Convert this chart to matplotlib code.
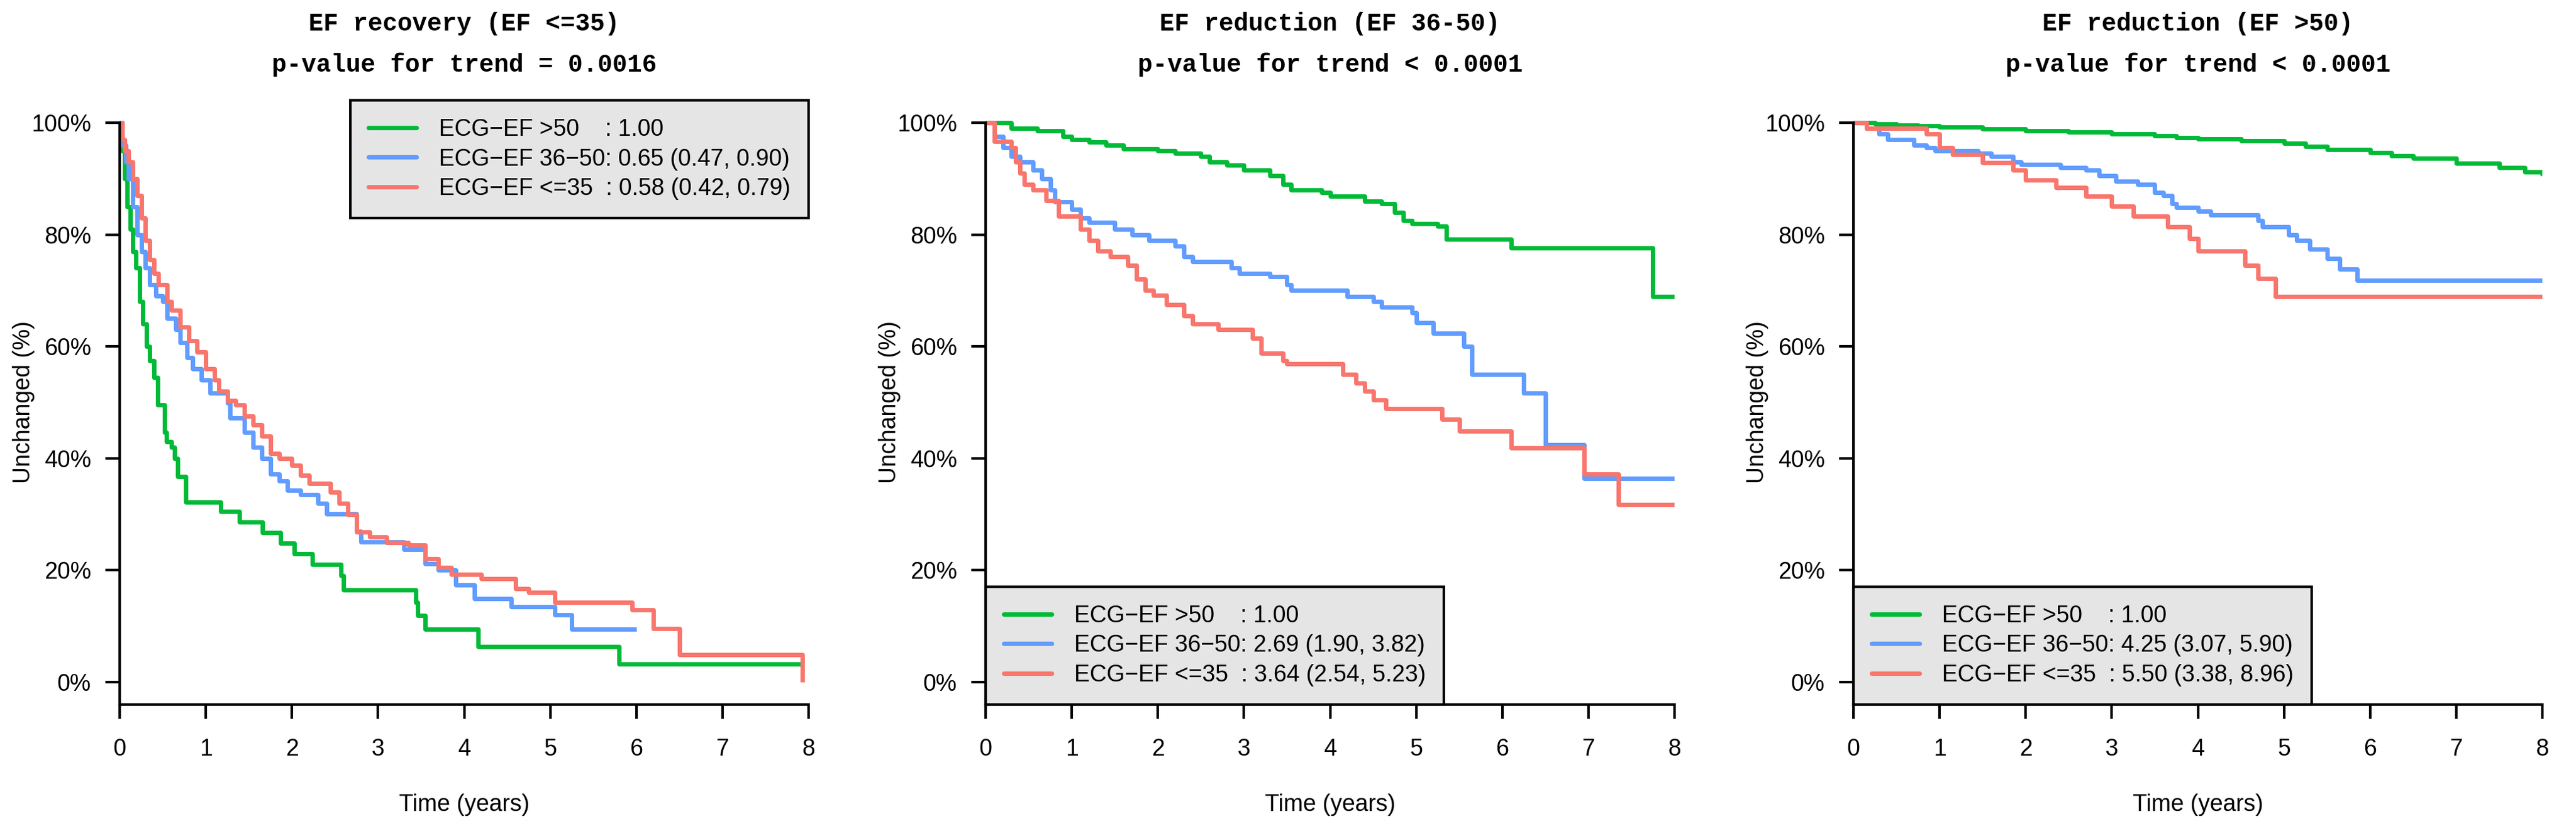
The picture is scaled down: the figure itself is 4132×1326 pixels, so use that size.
import matplotlib
matplotlib.use("Agg")
import matplotlib.pyplot as plt
from matplotlib.lines import Line2D
from matplotlib.ticker import FuncFormatter

# ---- data (time in years, proportion unchanged) ----
titles = ["EF recovery (EF <=35)\np-value for trend = 0.0016",
          "EF reduction (EF 36-50)\np-value for trend < 0.0001",
          "EF reduction (EF >50)\np-value for trend < 0.0001"]

groups = ["ECG\u2212EF >50    ", "ECG\u2212EF 36\u221250", "ECG\u2212EF <=35  "]
colors = ["#00BA38", "#619CFF", "#F8766D"]

hr_recovery = ["1.00", "0.65 (0.47, 0.90)", "0.58 (0.42, 0.79)"]
hr_red_mid = ["1.00", "2.69 (1.90, 3.82)", "3.64 (2.54, 5.23)"]
hr_red_high = ["1.00", "4.25 (3.07, 5.90)", "5.50 (3.38, 8.96)"]

# panel 1: EF recovery
rec_gt50_t = [0, 0.03, 0.06, 0.09, 0.12, 0.15, 0.19, 0.23, 0.27, 0.31, 0.35, 0.4, 0.44, 0.52, 0.54,
              0.6, 0.64, 0.67, 0.77, 1.17, 1.39, 1.66, 1.87, 2.03, 2.24, 2.57, 2.6, 3.44, 3.46, 3.55,
              4.16, 5.8, 7.95]
rec_gt50_s = [1.0, 0.95, 0.9, 0.85, 0.81, 0.77, 0.74, 0.68, 0.64, 0.6, 0.575, 0.545, 0.496, 0.447, 0.43,
              0.42, 0.40, 0.367, 0.322, 0.305, 0.286, 0.267, 0.248, 0.229, 0.21, 0.19, 0.165, 0.143, 0.119,
              0.095, 0.064, 0.032, 0.032]
rec_mid_t = [0, 0.03, 0.07, 0.1, 0.15, 0.2, 0.25, 0.3, 0.35, 0.42, 0.5, 0.55, 0.65, 0.7, 0.78, 0.85, 0.95,
             1.05, 1.25, 1.28, 1.45, 1.55, 1.65, 1.75, 1.85, 1.95, 2.1, 2.3, 2.4, 2.75, 2.8, 3.3, 3.55,
             3.7, 3.9, 4.12, 4.55, 5.05, 5.25, 6.0]
rec_mid_s = [1.0, 0.96, 0.93, 0.9, 0.85, 0.8, 0.77, 0.74, 0.71, 0.69, 0.68, 0.65, 0.63, 0.607, 0.58, 0.56,
             0.54, 0.517, 0.499, 0.472, 0.447, 0.42, 0.40, 0.372, 0.36, 0.343, 0.335, 0.32, 0.301, 0.27,
             0.251, 0.237, 0.212, 0.2, 0.174, 0.149, 0.135, 0.12, 0.095, 0.095]
rec_le35_t = [0, 0.03, 0.06, 0.1, 0.15, 0.2, 0.25, 0.3, 0.35, 0.4, 0.45, 0.55, 0.6, 0.7, 0.8, 0.9, 1.0,
              1.1, 1.15, 1.25, 1.35, 1.45, 1.55, 1.65, 1.75, 1.85, 2.0, 2.1, 2.2, 2.45, 2.55, 2.65, 2.75,
              2.9, 3.1, 3.35, 3.55, 3.7, 3.85, 4.2, 4.6, 4.75, 5.05, 5.95, 6.2, 6.5, 7.93]
rec_le35_s = [1.0, 0.97, 0.95, 0.93, 0.9, 0.87, 0.83, 0.79, 0.755, 0.73, 0.71, 0.68, 0.665, 0.635, 0.61,
              0.59, 0.56, 0.54, 0.52, 0.503, 0.495, 0.475, 0.46, 0.44, 0.409, 0.40, 0.388, 0.37, 0.355,
              0.34, 0.32, 0.30, 0.268, 0.26, 0.25, 0.245, 0.22, 0.205, 0.193, 0.185, 0.167, 0.16, 0.143,
              0.129, 0.096, 0.049, 0.0]

# panel 2: EF reduction, EF 36-50
mid_gt50_t = [0, 0.3, 0.6, 0.9, 1.0, 1.2, 1.4, 1.6, 2.0, 2.2, 2.5, 2.6, 2.8, 3.0, 3.3, 3.45, 3.55, 3.9,
              4.0, 4.4, 4.6, 4.75, 4.85, 4.95, 5.25, 5.35, 6.1, 7.75, 8.0]
mid_gt50_s = [1.0, 0.99, 0.985, 0.975, 0.97, 0.965, 0.96, 0.953, 0.95, 0.945, 0.94, 0.93, 0.924, 0.915,
              0.905, 0.89, 0.88, 0.875, 0.868, 0.86, 0.855, 0.84, 0.825, 0.82, 0.815, 0.792, 0.776, 0.689,
              0.689]
mid_mid_t = [0, 0.1, 0.2, 0.3, 0.4, 0.55, 0.65, 0.75, 0.8, 1.0, 1.1, 1.2, 1.5, 1.7, 1.9, 2.2, 2.3, 2.4,
             2.85, 2.95, 3.3, 3.5, 3.55, 4.2, 4.5, 4.6, 4.95, 5.0, 5.2, 5.55, 5.65, 6.25, 6.5, 6.95, 8.0]
mid_mid_s = [1.0, 0.975, 0.955, 0.94, 0.93, 0.915, 0.9, 0.88, 0.859, 0.845, 0.83, 0.822, 0.81, 0.80,
             0.79, 0.78, 0.76, 0.752, 0.74, 0.731, 0.725, 0.71, 0.70, 0.689, 0.68, 0.67, 0.66, 0.642,
             0.624, 0.6, 0.55, 0.517, 0.424, 0.364, 0.364]
mid_le35_t = [0, 0.1, 0.3, 0.35, 0.4, 0.45, 0.55, 0.7, 0.85, 1.1, 1.2, 1.3, 1.45, 1.65, 1.75, 1.85, 1.95,
              2.1, 2.3, 2.4, 2.7, 3.1, 3.2, 3.45, 3.5, 4.15, 4.3, 4.4, 4.5, 4.65, 5.3, 5.5, 6.1, 6.95,
              7.35, 8.0]
mid_le35_s = [1.0, 0.966, 0.955, 0.93, 0.91, 0.89, 0.88, 0.861, 0.833, 0.81, 0.79, 0.771, 0.76, 0.745,
              0.72, 0.70, 0.691, 0.675, 0.655, 0.64, 0.63, 0.615, 0.588, 0.575, 0.569, 0.55, 0.535, 0.52,
              0.505, 0.489, 0.47, 0.449, 0.419, 0.372, 0.317, 0.317]

# panel 3: EF reduction, EF >50
high_gt50_t = [0, 0.25, 0.5, 0.75, 1.0, 1.5, 2.0, 2.5, 3.0, 3.5, 3.75, 4.0, 4.5, 5.0, 5.25, 5.5, 6.0,
               6.25, 6.5, 7.0, 7.5, 7.8, 8.0]
high_gt50_s = [1.0, 0.998, 0.996, 0.994, 0.992, 0.989, 0.986, 0.983, 0.980, 0.977, 0.973, 0.971, 0.968,
               0.963, 0.958, 0.952, 0.947, 0.941, 0.936, 0.928, 0.92, 0.912, 0.905]
high_mid_t = [0, 0.15, 0.3, 0.4, 0.7, 0.85, 0.95, 1.45, 1.6, 1.85, 1.95, 2.4, 2.7, 2.85, 3.05, 3.3, 3.5,
              3.6, 3.7, 3.75, 4.0, 4.15, 4.7, 4.75, 5.05, 5.15, 5.3, 5.5, 5.65, 5.85, 8.0]
high_mid_s = [1.0, 0.99, 0.98, 0.97, 0.96, 0.955, 0.95, 0.945, 0.94, 0.93, 0.925, 0.92, 0.915, 0.905,
              0.895, 0.89, 0.875, 0.87, 0.855, 0.849, 0.842, 0.835, 0.825, 0.814, 0.80, 0.79, 0.774,
              0.757, 0.738, 0.718, 0.718]
high_le35_t = [0, 0.15, 0.85, 1.0, 1.15, 1.5, 1.85, 2.0, 2.35, 2.7, 3.0, 3.25, 3.65, 3.9, 4.0, 4.55,
               4.7, 4.9, 8.0]
high_le35_s = [1.0, 0.99, 0.98, 0.955, 0.943, 0.929, 0.915, 0.898, 0.884, 0.868, 0.851, 0.833, 0.814,
               0.793, 0.771, 0.745, 0.722, 0.689, 0.689]

panels = [
    ([(rec_gt50_t, rec_gt50_s), (rec_mid_t, rec_mid_s), (rec_le35_t, rec_le35_s)], hr_recovery, "upper right"),
    ([(mid_gt50_t, mid_gt50_s), (mid_mid_t, mid_mid_s), (mid_le35_t, mid_le35_s)], hr_red_mid, "lower left"),
    ([(high_gt50_t, high_gt50_s), (high_mid_t, high_mid_s), (high_le35_t, high_le35_s)], hr_red_high, "lower left"),
]

plt.rcParams["font.family"] = ["Liberation Sans", "DejaVu Sans"]
FS = 9

fig = plt.figure(figsize=(4132 / 300, 1326 / 300), dpi=300)
lefts = [192 / 4132, 1581 / 4132, 2973 / 4132]

for i, (curves, hrs, loc) in enumerate(panels):
    ax = fig.add_axes([lefts[i], 195 / 1326, 1105 / 4132, 970 / 1326])
    for (t, s), c in zip(curves, colors):
        ax.step(t, s, where="post", color=c, lw=1.7, solid_capstyle="butt")

    ax.set_xlim(0, 8)
    ax.set_ylim(-0.04, 1.04)
    ax.set_xticks(range(9))
    ax.set_yticks([0, 0.2, 0.4, 0.6, 0.8, 1.0])
    ax.yaxis.set_major_formatter(FuncFormatter(lambda v, p: f"{v * 100:.0f}%"))
    for side in ("top", "right"):
        ax.spines[side].set_visible(False)
    for side in ("left", "bottom"):
        ax.spines[side].set_linewidth(1.0)
    ax.spines["left"].set_bounds(-0.04, 1.0)
    ax.tick_params(axis="both", length=5.5, width=1.0, labelsize=FS)
    ax.tick_params(axis="x", pad=7.5)
    ax.tick_params(axis="y", pad=5.5)

    ax.set_xlabel("Time (years)", fontsize=FS)
    ax.set_ylabel("Unchanged (%)", fontsize=FS)
    ax.xaxis.set_label_coords(0.5, -0.147)
    ax.yaxis.set_label_coords(-0.123, 0.5)

    ax.set_title(titles[i], family="Liberation Mono", fontweight="bold", fontsize=9.5,
                 linespacing=1.9, pad=11)

    handles = [Line2D([], [], color=c, lw=1.7, solid_capstyle="round") for c in colors]
    labels = [f"{g}: {h}" for g, h in zip(groups, hrs)]
    anchor = (1, 1) if loc == "upper right" else (0, 0)
    leg = ax.legend(handles, labels, loc=loc, bbox_to_anchor=anchor, borderaxespad=0,
                    fontsize=FS, fancybox=False, framealpha=1, facecolor="#E5E5E5",
                    edgecolor="black", handlelength=2.05, handletextpad=0.95,
                    borderpad=0.78, labelspacing=0.3)
    leg.get_frame().set_linewidth(1.0)

fig.savefig("out.png", dpi=300)
